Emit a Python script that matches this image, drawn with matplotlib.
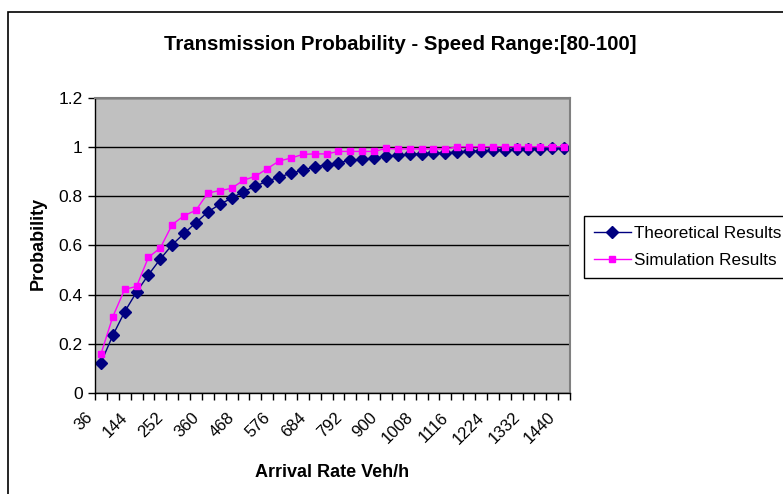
import numpy as np
import matplotlib.pyplot as plt
import matplotlib.transforms as mtransforms
from matplotlib.patches import Rectangle

plt.rcParams['font.family'] = ['Liberation Sans', 'DejaVu Sans']

# arrival rate categories (veh/h)
arrival_rate = [36, 72, 108, 144, 180, 216, 252, 288, 324, 360,
                396, 432, 468, 504, 540, 576, 612, 648, 684, 720,
                756, 792, 828, 864, 900, 936, 972, 1008, 1044, 1080,
                1116, 1152, 1188, 1224, 1260, 1296, 1332, 1368, 1404, 1440]

theoretical = [0.123, 0.234, 0.330, 0.410, 0.480, 0.544, 0.602, 0.648, 0.692, 0.735,
               0.766, 0.791, 0.818, 0.839, 0.861, 0.876, 0.893, 0.904, 0.919, 0.926,
               0.935, 0.945, 0.949, 0.954, 0.962, 0.965, 0.970, 0.972, 0.974, 0.976,
               0.978, 0.981, 0.983, 0.985, 0.987, 0.989, 0.991, 0.992, 0.994, 0.995]

simulation = [0.158, 0.310, 0.421, 0.433, 0.551, 0.589, 0.684, 0.720, 0.742, 0.812,
              0.822, 0.831, 0.864, 0.880, 0.911, 0.942, 0.954, 0.969, 0.971, 0.971,
              0.981, 0.981, 0.981, 0.981, 0.993, 0.991, 0.991, 0.991, 0.991, 0.991,
              1.0, 1.0, 1.0, 1.0, 1.0, 1.0, 1.0, 1.0, 1.0, 1.0]

y_ticks = [0, 0.2, 0.4, 0.6, 0.8, 1.0, 1.2]
y_tick_labels = ['0', '0.2', '0.4', '0.6', '0.8', '1', '1.2']

W, H = 783, 494
fig = plt.figure(figsize=(W / 100, H / 100), dpi=100)

# outer chart frame (runs off the right and bottom edges)
fig.add_artist(Rectangle((8 / W, -0.2), 1.5, 1.2 - 12 / H, transform=fig.transFigure,
                         fill=False, ec='black', lw=1.2))

ax = fig.add_axes([95 / W, 1 - 393 / H, 475 / W, 295.5 / H])
ax.set_facecolor('#c0c0c0')

x = np.arange(len(arrival_rate))
ax.plot(x, theoretical, color='#000080', lw=1, marker='D', ms=5.8,
        label='Theoretical Results')
ax.plot(x, simulation, color='#ff00ff', lw=1, marker='s', ms=5,
        label='Simulation Results')

ax.set_xlim(-0.5, len(arrival_rate) - 0.5)
ax.set_ylim(0, 1.2)
ax.set_yticks(y_ticks, y_tick_labels, fontsize=12.5)
ax.grid(axis='y', color='black', lw=1)
ax.set_axisbelow(True)
ax.tick_params(axis='y', length=5, width=1, pad=4)

# tick marks between categories
ax.set_xticks(np.arange(-0.5, len(arrival_rate)), labels=[])
ax.tick_params(axis='x', length=5, width=1, direction='out')

# rotated labels on every third category
lab_tr = mtransforms.blended_transform_factory(ax.transData, ax.transAxes) + \
    mtransforms.ScaledTranslation(-0.11, -0.22, fig.dpi_scale_trans)
for i in x[::3]:
    ax.text(i, 0, str(arrival_rate[i]), transform=lab_tr, rotation=45,
            rotation_mode='anchor', ha='right', va='center', fontsize=12)

for side in ('top', 'right'):
    ax.spines[side].set_color('#808080')
    ax.spines[side].set_linewidth(1.5)
for side in ('left', 'bottom'):
    ax.spines[side].set_color('black')
    ax.spines[side].set_linewidth(1)

fig.text(400 / W, 1 - 45 / H, 'Transmission Probability - Speed Range:[80-100]',
         ha='center', va='center', fontsize=14.7, fontweight='bold')
fig.text(332 / W, 1 - 472 / H, 'Arrival Rate Veh/h', ha='center', va='center',
         fontsize=13, fontweight='bold')
fig.text(38 / W, 1 - 243 / H, 'Probability', ha='center', va='center',
         rotation=90, fontsize=13, fontweight='bold')

fig.legend(loc='upper left', bbox_to_anchor=(584 / W, 1 - 216 / H), borderaxespad=0,
           fontsize=12.3, frameon=True, fancybox=False, edgecolor='black',
           framealpha=1, handlelength=2.15, handletextpad=0.2, borderpad=0.58,
           labelspacing=0.72)

fig.savefig('out.png', dpi=100)
